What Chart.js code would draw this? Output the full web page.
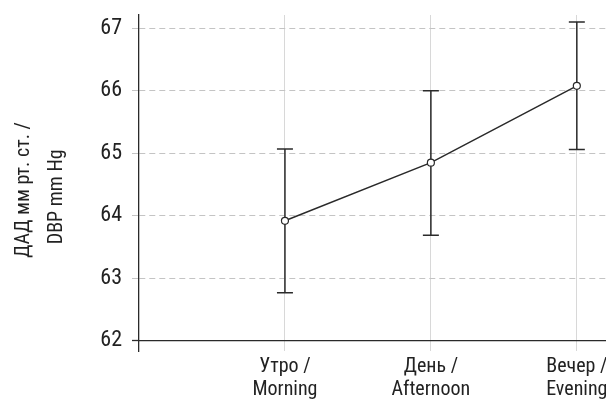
<!DOCTYPE html>
<html>
<head>
<meta charset="utf-8">
<script src="https://cdn.jsdelivr.net/npm/chart.js@4"></script>
<style>
  body { margin: 0; overflow: hidden; background: #fff; }
</style>
</head>
<body>
<canvas id="bpChart" width="655" height="399"></canvas>
<script>
// Time-of-day labels and their positions on the x axis
const xLabels = [["Утро /", "Morning"], ["День /", "Afternoon"], ["Вечер /", "Evening"]];
const xPositions = [1, 2, 3];

// Mean DBP and error bar ends
const means = [63.92, 64.85, 66.08];
const lower = [62.77, 63.69, 65.06];
const upper = [65.07, 66.00, 67.10];

const yTicks = [62, 63, 64, 65, 66, 67];

const fontFamily = "'Roboto Condensed', 'DejaVu Sans Condensed', sans-serif";
const ink = "#2a2a2a";

// Draw error bars under the line and points
const errorBars = {
    id: "errorBars",
    beforeDatasetsDraw(chart) {
        const { ctx, scales: { x, y } } = chart;
        ctx.save();
        ctx.strokeStyle = ink;
        ctx.lineWidth = 1.5;
        xPositions.forEach((v, i) => {
            const px = x.getPixelForValue(v);
            const top = y.getPixelForValue(upper[i]);
            const bot = y.getPixelForValue(lower[i]);
            ctx.beginPath();
            ctx.moveTo(px, top);
            ctx.lineTo(px, bot);
            ctx.moveTo(px - 8, top);
            ctx.lineTo(px + 8, top);
            ctx.moveTo(px - 8, bot);
            ctx.lineTo(px + 8, bot);
            ctx.stroke();
        });
        ctx.restore();
    }
};

const ctx = document.getElementById("bpChart").getContext("2d");
new Chart(ctx, {
    type: "line",
    data: {
        datasets: [{
            data: xPositions.map((x, i) => ({ x: x, y: means[i] })),
            borderColor: ink,
            borderWidth: 1.5,
            pointRadius: 3.5,
            pointBackgroundColor: "#fff",
            pointBorderColor: ink,
            pointBorderWidth: 1.2,
            tension: 0,
        }],
    },
    options: {
        responsive: false,
        devicePixelRatio: 1,
        animation: false,
        layout: { padding: { top: 15, right: 0, bottom: 48, left: 0 } },
        plugins: {
            legend: { display: false },
            tooltip: { enabled: false },
        },
        scales: {
            x: {
                type: "linear",
                min: 0,
                max: 3.5,
                position: { y: 62 },
                afterBuildTicks: scale => { scale.ticks = xPositions.map(v => ({ value: v })); },
                afterFit: scale => {
                    scale.paddingLeft = 0;
                    scale.paddingRight = 0;
                },
                ticks: {
                    callback: (value, index) => xLabels[index],
                    font: { family: fontFamily, size: 20, lineHeight: 1.15 },
                    color: "#222",
                    padding: 8,
                    maxRotation: 0,
                    autoSkip: false,
                },
                grid: {
                    color: "#d8d8d8",
                    lineWidth: 1,
                    tickLength: 7,
                    tickColor: "#d8d8d8",
                },
                border: { color: ink, width: 1.3 },
            },
            y: {
                type: "linear",
                min: 61.837,
                max: 67.213,
                afterBuildTicks: scale => { scale.ticks = yTicks.map(v => ({ value: v })); },
                afterFit: scale => {
                    scale.width = 139;
                    scale.paddingTop = 0;
                    scale.paddingBottom = 0;
                },
                ticks: {
                    font: { family: fontFamily, size: 22 },
                    color: "#222",
                    padding: 10,
                },
                grid: {
                    color: "#c4c4c4",
                    lineWidth: 1,
                    tickLength: 7,
                    tickColor: c => (c.tick && c.tick.value === 62 ? ink : "#c4c4c4"),
                    tickWidth: c => (c.tick && c.tick.value === 62 ? 1.3 : 1),
                },
                border: { color: ink, width: 1.3, dash: [6, 4] },
                title: {
                    display: true,
                    // trailing spaces nudge the rotated lines down a little
                    text: ["ДАД мм рт. ст. /   ", "DBP mm Hg      "],
                    font: { family: fontFamily, size: 20, lineHeight: 1.65 },
                    color: "#222",
                    padding: { top: 7, bottom: 0 },
                },
            },
        },
    },
    plugins: [errorBars],
});
</script>
</body>
</html>
